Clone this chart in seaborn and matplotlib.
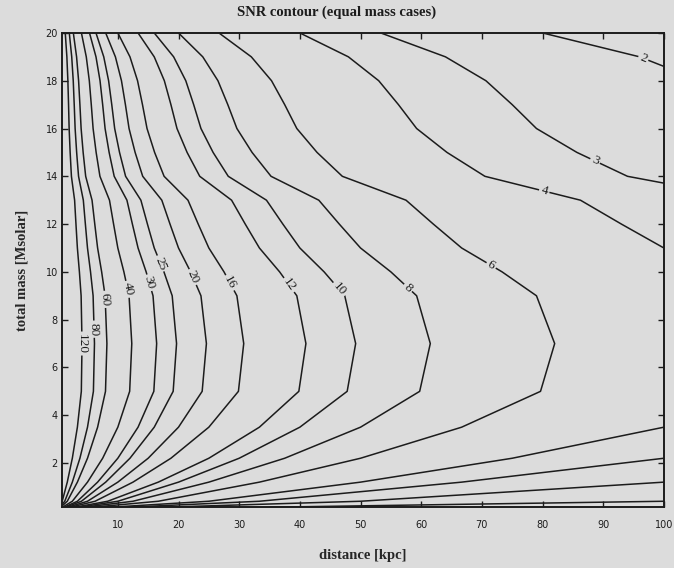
import numpy as np
import pandas as pd
import seaborn as sns
import matplotlib.pyplot as plt

# SNR scales as 1/distance; this is SNR*distance (SNR at 1 kpc) per total mass
total_mass = [0.15, 0.4, 1.2, 2.2, 3.5, 5, 7, 9, 10, 11, 12, 13, 14, 15, 16, 17, 18, 19, 20]
snr_at_1kpc = [35, 100, 200, 300, 400, 478, 492, 474, 440, 400, 372, 345, 282, 257, 237, 225, 212, 192, 160]
levels = [1, 2, 3, 4, 6, 8, 10, 12, 16, 20, 25, 30, 40, 60, 80, 120]
x_ticks = list(range(10, 101, 10))
y_ticks = list(range(2, 21, 2))

# where the inline labels sit (distance, mass)
label_pos = [(96.4, 18.8), (88.4, 14.5), (80.2, 13.3), (71.6, 10.3), (57.9, 9.35),
             (46.8, 9.35), (38.5, 9.5), (28.6, 9.56), (22.5, 9.8), (17.5, 10.4),
             (15.4, 9.56), (11.6, 9.27), (7.9, 8.85), (5.8, 7.6), (3.8, 7.0)]

sns.set_theme(style="ticks")
bg = '#dcdcdc'
plt.rcParams['font.family'] = ['Liberation Serif', 'DejaVu Serif']
plt.rcParams['axes.linewidth'] = 1.4

distance = np.linspace(0.8, 100, 600)
snr = pd.DataFrame(np.outer(snr_at_1kpc, 1.0 / distance), index=total_mass, columns=distance)

fig = plt.figure(figsize=(6.74, 5.68), dpi=100, facecolor=bg)
ax = fig.add_axes([0.092, 0.107, 0.893, 0.835], facecolor=bg)
cs = ax.contour(snr.columns, snr.index, snr.values, levels=levels, colors='#1c1c1c', linewidths=1.1)
ax.clabel(cs, fmt='%d', fontsize=9.5, inline=True, inline_spacing=2, manual=label_pos)

ax.set_xlim(0.8, 100)
ax.set_ylim(0.15, 20)
ax.set_xticks(x_ticks)
ax.set_yticks(y_ticks)
ax.tick_params(direction='in', top=True, right=True, length=4, width=1, labelsize=7, colors='#1c1c1c')
ax.tick_params(axis='x', pad=9)
ax.tick_params(axis='y', pad=3)
for lab in ax.get_xticklabels() + ax.get_yticklabels():
    lab.set_fontfamily('DejaVu Sans')
for s in ax.spines.values():
    s.set_color('#1c1c1c')

# title is centred on the figure, not on the axes
fig.text(0.5, 0.978, 'SNR contour (equal mass cases)', ha='center', va='center',
         fontsize=10.5, fontweight='bold', color='#1c1c1c')
ax.set_xlabel('distance [kpc]', fontsize=10.5, fontweight='bold', labelpad=14)
ax.set_ylabel('total mass [Msolar]', fontsize=10.5, fontweight='bold', labelpad=12)

fig.savefig('out.png', dpi=100, facecolor=bg)
